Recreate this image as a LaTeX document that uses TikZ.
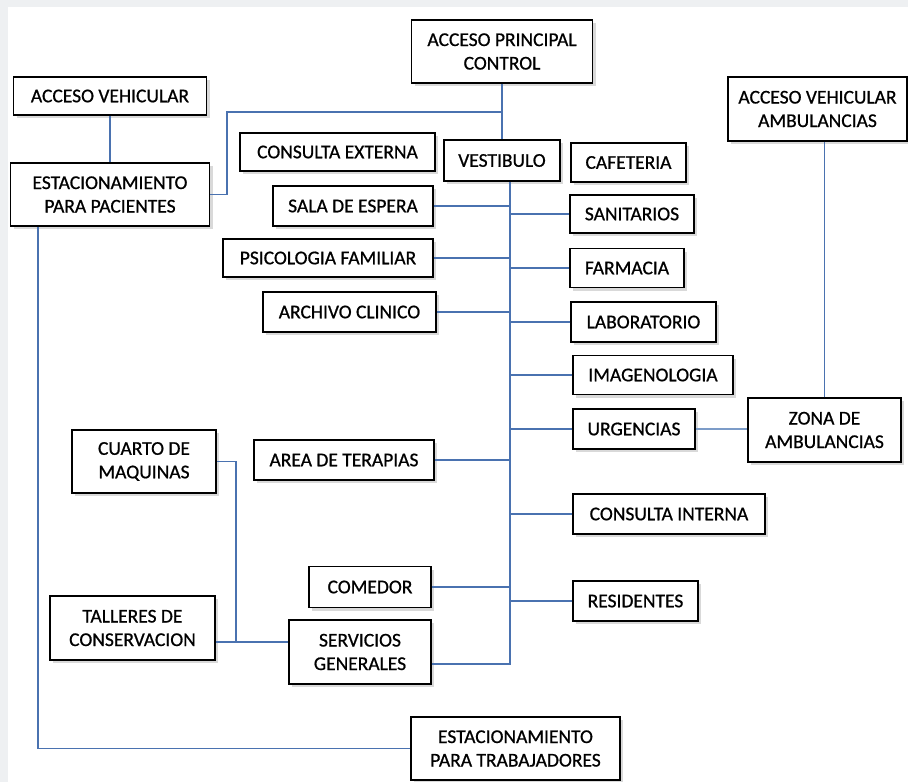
\documentclass[tikz,border=0pt]{standalone}
\usepackage{fontspec}
\setmainfont{Carlito}
\newfontfamily\boxfont[FakeBold=0.8]{Carlito}
\usepackage{xcolor}
\usepackage{tikz}
\usetikzlibrary{shapes,positioning,shadows}

\definecolor{linkblue}{HTML}{4A72B0}
\definecolor{linklight}{HTML}{7C9CC8}
\definecolor{pagegray}{HTML}{EEF0F2}

\begin{document}
\begin{tikzpicture}[x=1pt, y=-1pt]
    \tikzstyle{area} = [rectangle, draw, line width=1.5pt, fill=white, align=center, inner sep=2pt,
        font=\boxfont\fontsize{19.5}{23.5}\selectfont, text=black,
        drop shadow={shadow xshift=3pt, shadow yshift=-3pt, opacity=.25, fill=black!60}]
    \tikzstyle{link} = [line width=1.7pt, draw=linkblue]

    % page
    \useasboundingbox (0,0) rectangle (908,782);
    \fill [pagegray] (0,0) rectangle (908,7);
    \fill [pagegray] (0,0) rectangle (8,782);

    % Accesos y estacionamientos
    \node [area, minimum width=181, minimum height=63] (accprin) at (502,51.5) {ACCESO PRINCIPAL\\CONTROL};
    \node [area, minimum width=193, minimum height=38] (accveh) at (110,96) {ACCESO VEHICULAR};
    \node [area, minimum width=199, minimum height=63] (estpac) at (110,194.5) {ESTACIONAMIENTO\\PARA PACIENTES};
    \node [area, minimum width=179, minimum height=64] (accamb) at (817.5,109) {ACCESO VEHICULAR\\AMBULANCIAS};
    \node [area, minimum width=209, minimum height=63] (esttrab) at (515.5,748.5) {ESTACIONAMIENTO\\PARA TRABAJADORES};

    % Vestibulo
    \node [area, minimum width=116, minimum height=41] (vest) at (502,160.5) {VESTIBULO};

    % Lado izquierdo
    \node [area, minimum width=195, minimum height=38] (conext) at (337.5,152) {CONSULTA EXTERNA};
    \node [area, minimum width=160, minimum height=40] (sala) at (353,206) {SALA DE ESPERA};
    \node [area, minimum width=210, minimum height=38] (psico) at (328,258) {PSICOLOGIA FAMILIAR};
    \node [area, minimum width=173, minimum height=40] (archivo) at (349.5,312) {ARCHIVO CLINICO};
    \node [area, minimum width=180, minimum height=40] (terap) at (344,460) {AREA DE TERAPIAS};
    \node [area, minimum width=122, minimum height=41] (comedor) at (370,587) {COMEDOR};
    \node [area, minimum width=142, minimum height=64] (servicios) at (360,652) {SERVICIOS\\GENERALES};

    % Lado derecho
    \node [area, minimum width=115, minimum height=39] (cafe) at (628.5,162.5) {CAFETERIA};
    \node [area, minimum width=124, minimum height=38] (sanit) at (632,214) {SANITARIOS};
    \node [area, minimum width=114, minimum height=39] (farm) at (627,268) {FARMACIA};
    \node [area, minimum width=145, minimum height=40] (lab) at (643.5,322) {LABORATORIO};
    \node [area, minimum width=160, minimum height=39] (imag) at (653,375) {IMAGENOLOGIA};
    \node [area, minimum width=122, minimum height=40] (urg) at (634,429) {URGENCIAS};
    \node [area, minimum width=192, minimum height=40] (conint) at (669,514) {CONSULTA INTERNA};
    \node [area, minimum width=125, minimum height=40] (resid) at (635.5,601) {RESIDENTES};
    \node [area, minimum width=153, minimum height=64] (zona) at (824.5,430) {ZONA DE\\AMBULANCIAS};

    % Mantenimiento
    \node [area, minimum width=144, minimum height=63] (cuarto) at (144,461.5) {CUARTO DE\\MAQUINAS};
    \node [area, minimum width=165, minimum height=64] (talleres) at (132.5,628) {TALLERES DE\\CONSERVACION};

    % puntos de union
    \coordinate (spine) at (510,0);
    \coordinate (ctrl) at (502,112);
    \coordinate (taljoin) at (236,642);

    % Lines
    \draw [link] (accveh) -- (estpac);
    \draw [link] (accprin) -- (vest);
    \draw [link] (estpac.east) -- ++(17,0) |- (ctrl);
    \draw [link] ([yshift=-12pt]servicios.east) -| (vest.south -| spine);
    \draw [link] (sala.east) -- (sala.east -| spine);
    \draw [link] (psico.east) -- (psico.east -| spine);
    \draw [link] (archivo.east) -- (archivo.east -| spine);
    \draw [link] (terap.east) -- (terap.east -| spine);
    \draw [link] (comedor.east) -- (comedor.east -| spine);
    \draw [link] (sanit.west) -- (sanit.west -| spine);
    \draw [link] (farm.west) -- (farm.west -| spine);
    \draw [link] (lab.west) -- (lab.west -| spine);
    \draw [link] (imag.west) -- (imag.west -| spine);
    \draw [link] (urg.west) -- (urg.west -| spine);
    \draw [link] (conint.west) -- (conint.west -| spine);
    \draw [link] (resid.west) -- (resid.west -| spine);
    \draw [link, draw=linklight] (urg.east) -- (urg.east -| zona.west);
    \draw [link] (zona.north) -- (zona.north |- accamb.south);
    \draw [link] (cuarto.east) -| (taljoin);
    \draw [link] ([yshift=-14pt]talleres.east) -- (taljoin) -- (servicios.west |- taljoin);
    \draw [link] ([xshift=-72pt]estpac.south) |- (esttrab.west);
\end{tikzpicture}
\end{document}
